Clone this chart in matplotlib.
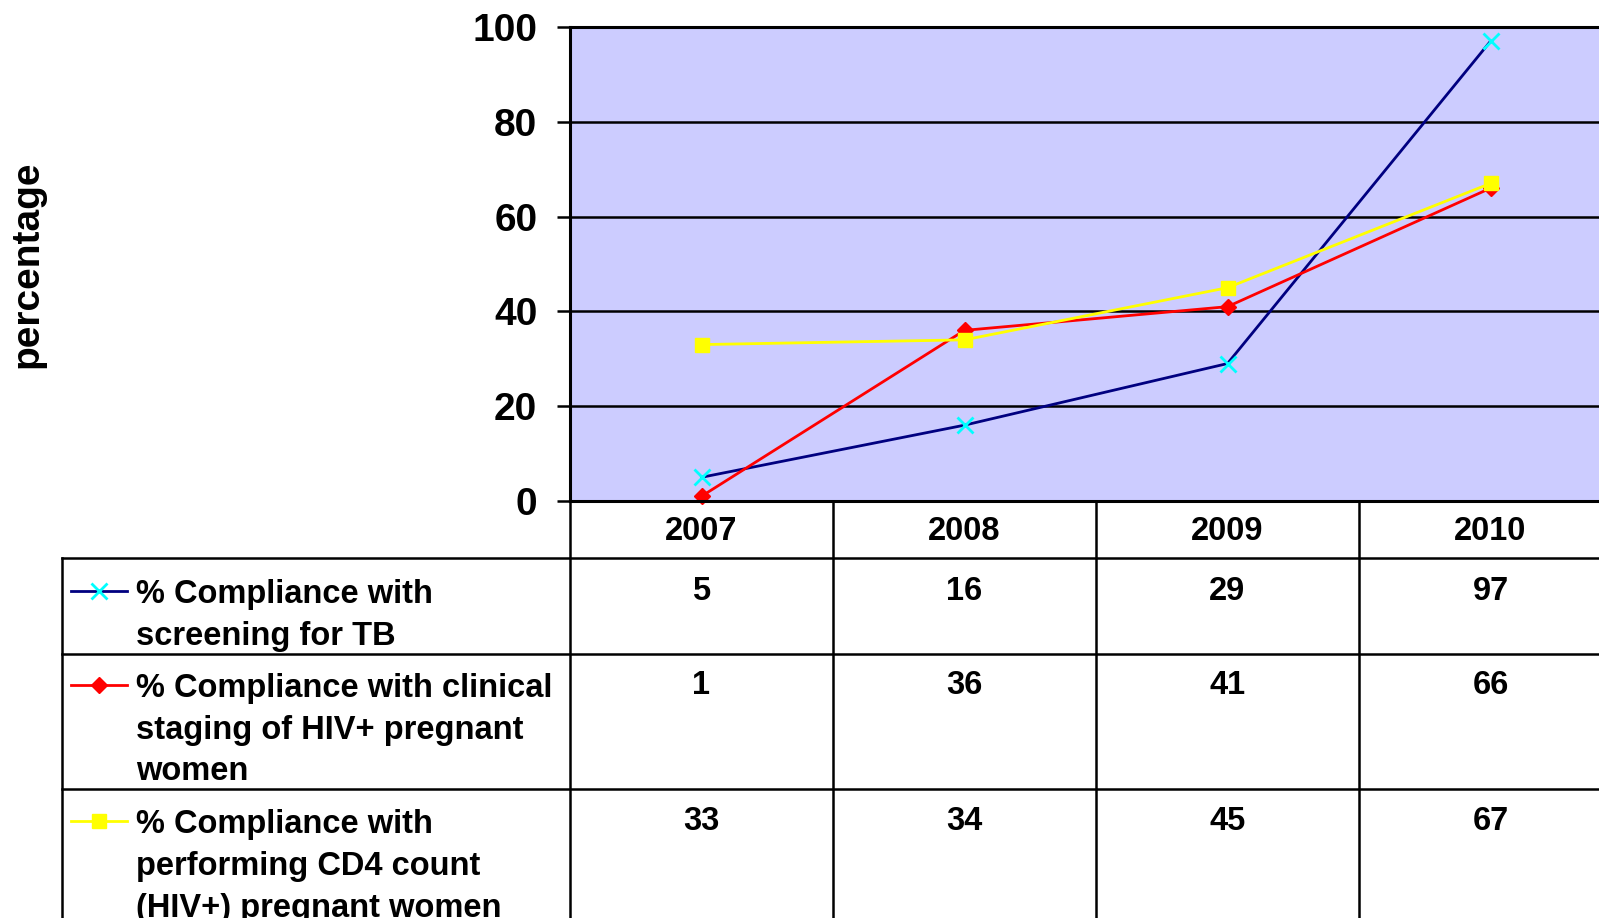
import numpy as np
import matplotlib
matplotlib.use("Agg")
import matplotlib.pyplot as plt
from matplotlib.lines import Line2D
import matplotlib.transforms as mtransforms

plt.rcParams['font.family'] = ['Liberation Sans', 'DejaVu Sans']
plt.rcParams['font.weight'] = 'bold'

# data
years = ['2007', '2008', '2009', '2010']
tb_screening = [5, 16, 29, 97]
clinical_staging = [1, 36, 41, 66]
cd4_count = [33, 34, 45, 67]
series_labels = [
    ['% Compliance with', 'screening for TB'],
    ['% Compliance with clinical', 'staging of HIV+ pregnant', 'women'],
    ['% Compliance with', 'performing CD4 count', '(HIV+) pregnant women'],
]

W, H = 1599, 918
fig = plt.figure(figsize=(W / 100, H / 100), dpi=100)

# plot area in pixels (left, top, right, bottom); runs off the right edge
left, top, right, bottom = 570, 27, 1622, 501
ax = fig.add_axes([left / W, 1 - bottom / H, (right - left) / W, (bottom - top) / H])
ax.set_facecolor('#CCCCFF')
x = np.arange(len(years))
ax.set_xlim(-0.5, len(years) - 0.5)
ax.set_ylim(0, 100)
ax.set_yticks([0, 20, 40, 60, 80, 100])
ax.yaxis.grid(True, color='black', linewidth=1.8)
ax.set_axisbelow(True)
ax.tick_params(axis='y', length=9.5, width=1.8, pad=14, labelsize=28)
ax.tick_params(axis='x', length=0, labelbottom=False)
for lab in ax.get_yticklabels():
    lab.set_fontweight('bold')
for s in ['left', 'bottom', 'top']:
    ax.spines[s].set_linewidth(2.2)
ax.spines['right'].set_visible(False)

styles = [
    dict(color='#000080', marker='x', mec='#00FFFF', mfc='#00FFFF', ms=12, mew=2),
    dict(color='#FF0000', marker='D', mec='#FF0000', mfc='#FF0000', ms=8),
    dict(color='#FFFF00', marker='s', mec='#FFFF00', mfc='#FFFF00', ms=10),
]
data = [tb_screening, clinical_staging, cd4_count]
for vals, st in zip(data, styles):
    ax.plot(x, vals, linewidth=2, clip_on=False, **st)

fig.text(27 / W, 1 - 264 / H, 'percentage', rotation=90, ha='center', va='center',
         fontsize=28, fontweight='bold')

# data table below the plot: x in category units, y in pixels from top
px = mtransforms.Affine2D().scale(1, -1).translate(0, H)
trans = mtransforms.blended_transform_factory(ax.transData, px)
ftrans = px

row_edges = [501, 558, 654, 789, 918]
lw = 1.8
# vertical separators between categories
for b in np.arange(-0.5, len(years) + 0.5, 1.0):
    fig.add_artist(Line2D([b, b], [row_edges[0], H], transform=trans, color='black', lw=lw))
# outer left edge of legend column
fig.add_artist(Line2D([62, 62], [row_edges[1], H], transform=ftrans, color='black', lw=lw))
# horizontal row lines
for y in row_edges[1:4]:
    fig.add_artist(Line2D([62, W], [y, y], transform=ftrans, color='black', lw=lw))

for i, yr in enumerate(years):
    fig.text(x[i], 532, yr, transform=trans, ha='center', va='center', fontsize=23.5,
             fontweight='bold')

line_step = 42
first_line = [594, 688, 824]
for r, (vals, st, lines) in enumerate(zip(data, styles, series_labels)):
    y0 = first_line[r]
    fig.add_artist(Line2D([71, 127], [y0 - 3, y0 - 3], transform=ftrans, color=st['color'], lw=2))
    fig.add_artist(Line2D([99], [y0 - 3], transform=ftrans, linestyle='none', marker=st['marker'],
                          mec=st['mec'], mfc=st['mfc'], ms=st['ms'], mew=st.get('mew', 1)))
    for k, t in enumerate(lines):
        fig.text(136, y0 + k * line_step, t, transform=ftrans, ha='left', va='center',
                 fontsize=23.5, fontweight='bold')
    for i, v in enumerate(vals):
        fig.text(x[i], y0 - 2, str(v), transform=trans, ha='center', va='center',
                 fontsize=23.5, fontweight='bold')

fig.savefig('out.png', dpi=100)
